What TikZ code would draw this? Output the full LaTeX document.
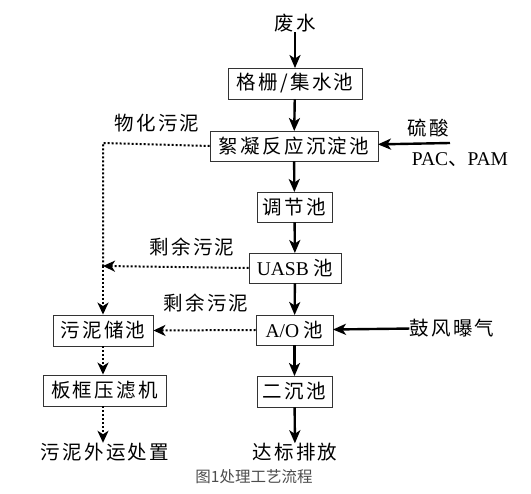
\documentclass[tikz,border=0pt]{standalone}
\usepackage{fontspec}
\usetikzlibrary{arrows.meta}
\setmainfont{Liberation Serif}
\newfontfamily\cjk[LetterSpace=12]{Noto Sans CJK SC}
\newfontfamily\cjkcap{Noto Sans CJK SC}

\begin{document}
\begin{tikzpicture}[x=1pt,y=-1pt,
    box/.style={draw=black!80,line width=.9pt,inner sep=0pt,font=\fontsize{19.5}{21}\selectfont},
    lbl/.style={inner sep=0pt,font=\fontsize{19.5}{21}\selectfont},
    flow/.style={line width=2.4pt,-{Stealth[length=13pt,width=11pt,inset=3.5pt]},shorten >=-.5pt},
    mud/.style={line width=2pt,dash pattern=on 2pt off 2pt},
    mudar/.style={mud,-{Stealth[length=12pt,width=11pt,inset=3.5pt]}}]
        \useasboundingbox (0,0) rectangle (531,494);
        % main line
        \node[lbl] (shui) at (295,23){\cjk 废水};
        \node[box,minimum width=134,minimum height=31] (gs) at (295,83.5){\cjk 格栅/集水池};
        \node[box,minimum width=168,minimum height=30] (xn) at (294,146){\cjk 絮凝反应沉淀池};
        \node[box,minimum width=75,minimum height=30] (tj) at (294.5,207){\cjk 调节池};
        \node[box,minimum width=92,minimum height=30] (uasb) at (295,268){UASB {\cjk 池}};
        \node[box,minimum width=77,minimum height=30] (ao) at (294.5,330){A/O {\cjk 池}};
        \node[box,minimum width=75,minimum height=31] (ec) at (294.5,391.5){\cjk 二沉池};
        \node[lbl] (db) at (295,452){\cjk 达标排放};
        % sludge line
        \node[box,minimum width=100,minimum height=31] (wc) at (103,330.5){\cjk 污泥储池};
        \node[box,minimum width=123,minimum height=31] (bk) at (104.5,390.5){\cjk 板框压滤机};
        \node[lbl] (wy) at (105,452){\cjk 污泥外运处置};
        % dosing and air
        \node[lbl] (ls) at (428,128){\cjk 硫酸};
        \node[lbl] (pac) at (460,160){PAC{\cjk 、}PAM};
        \node[lbl] (gf) at (452,328){\cjk 鼓风曝气};
        \node[lbl] (wh) at (157,123){\cjk 物化污泥};
        \node[lbl] (sy1) at (192,247){\cjk 剩余污泥};
        \node[lbl] (sy2) at (206,303){\cjk 剩余污泥};
        \node[inner sep=0pt,text=black!70,font=\fontsize{15.5}{17}\selectfont] (cap) at (254,477){\cjkcap 图1处理工艺流程};
        \coordinate (jy) at (450,143);
        \coordinate (c1) at (103,143);
        \coordinate (c2) at (103,266);

        \draw[flow] (shui) -- (gs);
        \draw[flow] (gs) -- (xn);
        \draw[flow] (xn) -- (tj);
        \draw[flow] (tj) -- (uasb);
        \draw[flow] (uasb) -- (ao);
        \draw[flow] (ao) -- (ec);
        \draw[flow] (ec) -- (db);
        \draw[flow] (jy) -- (xn);
        \draw[flow] (gf) -- (ao);

        \draw[mud] (xn.west) -- (c1) -- (c2);
        \draw[mudar] (uasb.west) -- (c2);
        \draw[mudar] (c2) -- (wc.north -| c2);
        \draw[mudar] (ao.west) -- (wc.east);
        \draw[mudar] (wc.south -| c2) -- (bk.north -| c2);
        \draw[mudar] (bk.south -| c2) -- (wy.north -| c2);
    \end{tikzpicture}
\end{document}
